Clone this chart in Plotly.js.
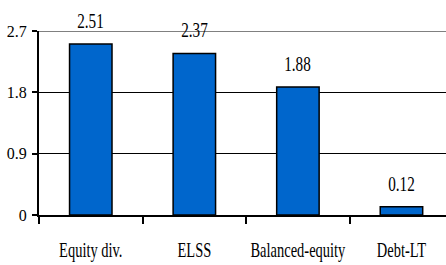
<!DOCTYPE html>
<html>
<head>
<meta charset="utf-8">
<script src="https://cdn.plot.ly/plotly-3.0.1.min.js"></script>
<style>
html,body{margin:0;padding:0;background:#fff;}
#chart{width:446px;height:265px;}
</style>
</head>
<body>
<div id="chart"></div>
<script>
const categories = ["Equity div.", "ELSS", "Balanced-equity", "Debt-LT"];
const values = [2.51, 2.37, 1.88, 0.12];
const valueLabels = ["2.51", "2.37", "1.88", "0.12"];
const yTickVals = [0, 0.9, 1.8, 2.7];
const yTickText = ["0", "0.9", "1.8", "2.7"];

const FONT = "Liberation Serif, Times New Roman, serif";

const trace = {
  type: "bar",
  x: categories,
  y: values,
  width: 0.41,
  marker: {color: "#0066cc", line: {color: "#000", width: 1.5}},
  hoverinfo: "none"
};

const annotations = categories.map((c, i) => ({
  x: c, y: values[i], xref: "x", yref: "y",
  text: valueLabels[i], showarrow: false,
  yanchor: "middle", yshift: 23,
  font: {family: FONT, size: 20, color: "#000"}
}));

const layout = {
  width: 446, height: 265,
  margin: {l: 39, r: 0, t: 31, b: 50},
  paper_bgcolor: "#fff", plot_bgcolor: "#fff",
  showlegend: false,
  bargap: 0,
  xaxis: {
    type: "category",
    range: [-0.5, 3.43],
    showgrid: false, zeroline: false,
    showline: true, linecolor: "#000", linewidth: 2,
    ticks: "outside", tickson: "boundaries", ticklen: 7, tickwidth: 2, tickcolor: "#000",
    tickangle: 0, automargin: false,
    tickfont: {family: FONT, size: 21, color: "#000"},
    ticklabelstandoff: 15
  },
  yaxis: {
    range: [0, 2.7],
    tickvals: yTickVals, ticktext: yTickText,
    showgrid: true, gridcolor: "#000", gridwidth: 1,
    zeroline: false,
    showline: true, linecolor: "#000", linewidth: 2,
    ticks: "outside", ticklen: 5, tickwidth: 2, tickcolor: "#000",
    tickfont: {family: FONT, size: 16, color: "#000"},
    ticklabelstandoff: 2
  },
  shapes: [{
    type: "line", xref: "paper", yref: "y", x0: 0, x1: 1, y0: 2.7, y1: 2.7,
    line: {color: "#808080", width: 2}, layer: "above"
  }],
  annotations: annotations
};

function squeeze(sel, s) {
  document.querySelectorAll(sel).forEach(t => {
    const x = parseFloat(t.getAttribute("x")) || 0;
    const tr = t.getAttribute("transform") || "";
    t.setAttribute("transform", tr + " translate(" + x + ",0) scale(" + s + ",1) translate(" + (-x) + ",0)");
  });
}

Plotly.newPlot("chart", [trace], layout, {staticPlot: true, displayModeBar: false}).then(() => {
  squeeze(".xtick text", 0.69);
  squeeze(".annotation-text", 0.76);
});
</script>
</body>
</html>
